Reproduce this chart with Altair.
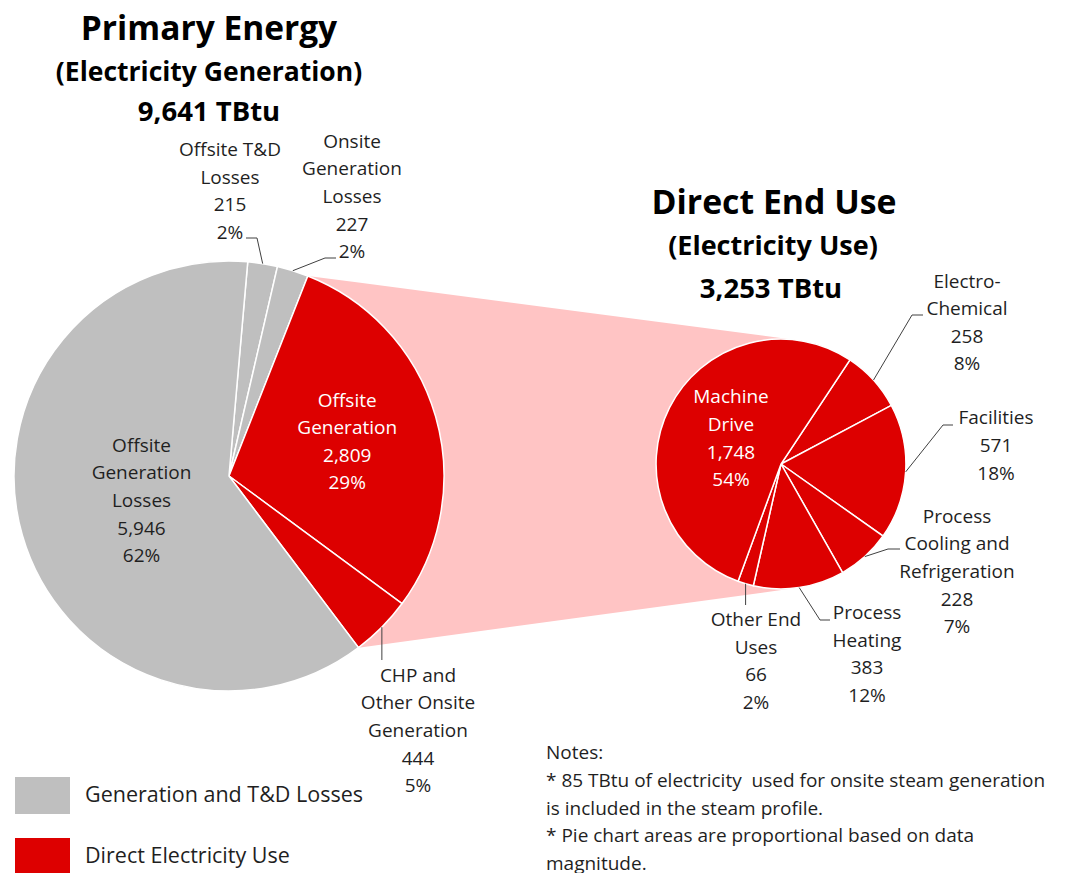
import math
import altair as alt
import pandas as pd

# ---------------- data ----------------
left_names = ["Offsite T&D\nLosses", "Onsite\nGeneration\nLosses", "Offsite\nGeneration",
              "CHP and\nOther Onsite\nGeneration", "Offsite\nGeneration\nLosses"]
left_values = [215, 227, 2809, 444, 5946]
left_groups = ["Generation and T&D Losses", "Generation and T&D Losses",
               "Direct Electricity Use", "Direct Electricity Use", "Generation and T&D Losses"]

right_names = ["Electro-\nChemical", "Facilities", "Process\nCooling and\nRefrigeration",
               "Process\nHeating", "Other End\nUses", "Machine\nDrive"]
right_values = [258, 571, 228, 383, 66, 1748]
right_groups = ["Direct Electricity Use"] * 6

legend_labels = ["Generation and T&D Losses", "Direct Electricity Use"]
title_left = ["Primary Energy", "(Electricity Generation)", "9,641 TBtu"]
title_right = ["Direct End Use", "(Electricity Use)", "3,253 TBtu"]
notes_lines = ["Notes:",
               "* 85 TBtu of electricity\u00a0 used for onsite steam generation",
               "is included in the steam profile.",
               "* Pie chart areas are proportional based on data",
               "magnitude."]

# ---------------- layout / style ----------------
PAGE = 8
W, H = 1052, 865
FONT = "Open Sans"
GRAY, RED, PINK = "#BFBFBF", "#DD0000", "#FFC4C4"
DARK = "#1F1F1F"
LINE = "#404040"
LABEL_SIZE = 19
LINE_H = 27.6

L_CX, L_CY, L_R = 229, 476, 215
R_CX, R_CY = 781, 464
L_START = math.radians(5.0)
R_START = math.radians(33.5)
# pie areas proportional to totals
R_R = L_R * math.sqrt(sum(right_values) / sum(left_values))

# index -> (text colour, radius) for labels drawn inside slices
left_inner = {2: ("white", 123), 4: (DARK, 91)}
right_inner = {5: ("white", 56)}
# index -> (label block centre, leader points after the slice edge)
left_outer = {0: ((230, 191.5), [(257, 238), (246, 238)]),
              1: ((352, 197), [(325, 258), (336, 258)]),
              3: ((418, 731), [(None, 660)])}
right_outer = {0: ((967, 323), [(912, 315), (923, 315)]),
               1: ((996, 446), [(943, 425), (953, 425)]),
               2: ((957, 572), [(888, 549), (900, 549)]),
               3: ((867, 654.5), [(820, 620), (830, 620)]),
               4: ((756, 661.5), [(None, 605)])}
title_left_pos = [(209, 40, 33.5), (209, 81, 26.5), (209, 121, 27.5)]
title_right_pos = [(774, 214, 33.8), (773, 255, 27), (771, 298, 27.5)]
NOTES_X, NOTES_Y, NOTES_SIZE, NOTES_LH = 546, 753, 19, 27.75
LEGEND_SIZE = 21.5
LEGEND_SYM_W, LEGEND_SYM_H = 55, 37
LEGEND_X, LEGEND_Y = 15, 777
LEGEND_ROW_PAD = 15


def n_lines(s):
    return s.count("\n") + 1


def first_line_shift(s, lh):
    return -(n_lines(s) - 1) * lh / 2


def slice_angles(values, start):
    total = sum(values)
    out, acc = [], start
    for v in values:
        a0 = acc
        acc += 2 * math.pi * v / total
        out.append((a0, acc))
    return out


def edge(cx, cy, r, ang):
    return cx + r * math.sin(ang), cy - r * math.cos(ang)


def label_text(name, v, total):
    return f"{name}\n{v:,}\n{round(100 * v / total)}%"


def pie_frame(names, values, groups):
    return pd.DataFrame({"name": names, "value": values, "group": groups,
                         "order": list(range(len(names)))})


XS = alt.Scale(domain=[PAGE, PAGE + W], nice=False, zero=False)
YS = alt.Scale(domain=[PAGE + H, PAGE], nice=False, zero=False)


def px(field):
    return alt.X(f"{field}:Q", scale=XS, axis=None)


def py(field):
    return alt.Y(f"{field}:Q", scale=YS, axis=None)


ratio = LEGEND_SYM_H / LEGEND_SYM_W
legend = alt.Legend(title=None, orient="none", legendX=LEGEND_X - PAGE,
                    legendY=LEGEND_Y - PAGE - (LEGEND_SYM_W - LEGEND_SYM_H) / 2,
                    direction="vertical",
                    symbolType=f"M-1,-{ratio:.4f}H1V{ratio:.4f}H-1Z",
                    symbolSize=LEGEND_SYM_W ** 2,
                    symbolStrokeWidth=0, symbolOpacity=1,
                    labelFont=FONT, labelFontSize=LEGEND_SIZE, labelColor=DARK,
                    labelOffset=15, rowPadding=LEGEND_ROW_PAD, labelLimit=400)
color_enc = alt.Color("group:N", scale=alt.Scale(domain=legend_labels, range=[GRAY, RED]),
                      legend=legend)


def pie(names, values, groups, cx, cy, r, start, inner):
    total = sum(values)
    df = pie_frame(names, values, groups)
    theta = alt.Theta("value:Q", stack=True,
                      scale=alt.Scale(range=[start, start + 2 * math.pi]))
    layers = []
    arcs_base = alt.Chart(df).encode(theta=theta, order=alt.Order("order:Q"),
                                     x=alt.value(cx - PAGE), y=alt.value(cy - PAGE))
    layers.append(arcs_base.mark_arc(radius=r, stroke="white", strokeWidth=1.5).encode(color=color_enc))
    for idx, (colr, rad) in inner.items():
        txt = label_text(names[idx], values[idx], total)
        d = df.copy()
        d["t"] = ["" if k != idx else txt for k in range(len(names))]
        layers.append(alt.Chart(d).mark_text(
            radius=rad, font=FONT, fontSize=LABEL_SIZE, lineHeight=LINE_H, lineBreak="\n",
            color=colr, align="center", baseline="middle",
            dy=first_line_shift(txt, LINE_H)).encode(
            theta=theta, order=alt.Order("order:Q"),
            x=alt.value(cx - PAGE), y=alt.value(cy - PAGE), text="t:N"))
    return alt.layer(*layers)


left_ang = slice_angles(left_values, L_START)
right_ang = slice_angles(right_values, R_START)

# ---- connector (pink band) from the left pie's red slices tangent to the right pie ----
red_idx = [i for i, g in enumerate(left_groups) if g == "Direct Electricity Use"]
tl = edge(L_CX, L_CY, L_R, left_ang[min(red_idx)][0])
bl = edge(L_CX, L_CY, L_R, left_ang[max(red_idx)][1])


def tangent(p, sign):
    dx, dy = p[0] - R_CX, p[1] - R_CY
    dist = math.hypot(dx, dy)
    a = math.atan2(dy, dx) + sign * math.acos(R_R / dist)
    return R_CX + R_R * math.cos(a), R_CY + R_R * math.sin(a)


tr = tangent(tl, +1)
br = tangent(bl, -1)


def line_y(p, q, x):
    return p[1] + (q[1] - p[1]) * (x - p[0]) / (q[0] - p[0])


xs = sorted({tl[0], bl[0], tr[0], br[0]})
band = pd.DataFrame({"x": xs,
                     "top": [line_y(tl, tr, x) for x in xs],
                     "bot": [line_y(bl, br, x) for x in xs]})
band_layer = alt.Chart(band).mark_area(color=PINK, opacity=1).encode(
    x=px("x"), y=py("top"), y2=alt.Y2("bot"))

# ---- leader lines and outside labels ----
lead_rows, text_rows = [], []


def add_outer(names, values, angles, outer, cx, cy, r, tag):
    total = sum(values)
    for i, (pos, pts) in outer.items():
        mid = (angles[i][0] + angles[i][1]) / 2
        sx, sy = edge(cx, cy, r, mid)
        seq = [(sx, sy)]
        for (x, y) in pts:
            seq.append((seq[-1][0] if x is None else x, y))
        for k, (x, y) in enumerate(seq):
            lead_rows.append(dict(id=f"{tag}{i}", seq=k, x=x, y=y))
        txt = label_text(names[i], values[i], total)
        text_rows.append(dict(x=pos[0], y=pos[1] + first_line_shift(txt, LINE_H), text=txt))


add_outer(left_names, left_values, left_ang, left_outer, L_CX, L_CY, L_R, "L")
add_outer(right_names, right_values, right_ang, right_outer, R_CX, R_CY, R_R, "R")

leaders = alt.Chart(pd.DataFrame(lead_rows)).mark_line(color=LINE, strokeWidth=1).encode(
    x=px("x"), y=py("y"), detail="id:N", order="seq:Q")
outer_text = alt.Chart(pd.DataFrame(text_rows)).mark_text(
    font=FONT, fontSize=LABEL_SIZE, lineHeight=LINE_H, lineBreak="\n", color=DARK,
    align="center", baseline="middle").encode(x=px("x"), y=py("y"), text="text:N")

# ---- titles ----
title_layers = []
for texts, poss in ((title_left, title_left_pos), (title_right, title_right_pos)):
    for t, (x, y, s) in zip(texts, poss):
        title_layers.append(alt.Chart(pd.DataFrame({"x": [x], "y": [y], "t": [t]})).mark_text(
            font=FONT, fontSize=s, fontWeight="bold", color="black", align="center",
            baseline="alphabetic").encode(x=px("x"), y=py("y"), text="t:N"))

notes = alt.Chart(pd.DataFrame({"x": [NOTES_X], "y": [NOTES_Y], "t": ["\n".join(notes_lines)]})).mark_text(
    font=FONT, fontSize=NOTES_SIZE, lineHeight=NOTES_LH, lineBreak="\n", color=DARK,
    align="left", baseline="middle").encode(x=px("x"), y=py("y"), text="t:N")

chart = alt.layer(
    band_layer,
    pie(left_names, left_values, left_groups, L_CX, L_CY, L_R, L_START, left_inner),
    pie(right_names, right_values, right_groups, R_CX, R_CY, R_R, R_START, right_inner),
    leaders, outer_text, *title_layers, notes,
).resolve_scale(theta="independent").properties(
    width=W, height=H, padding=0, autosize="none"
).configure_view(stroke=None)

chart.save("out.html", embed_options={"renderer": "svg", "actions": False})
